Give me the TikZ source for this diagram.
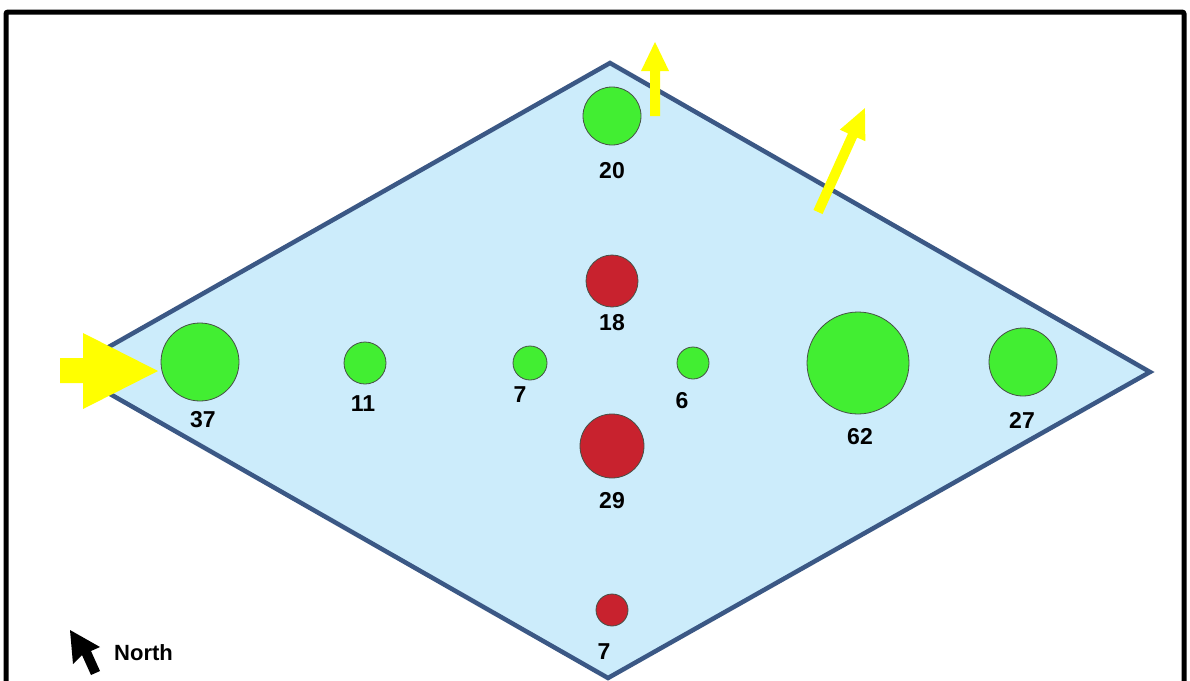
\documentclass[tikz,border=0pt]{standalone}
\usepackage{fontspec}
\setmainfont{Liberation Sans}
\definecolor{dfill}{RGB}{204,236,251}
\definecolor{dline}{RGB}{59,88,133}
\definecolor{gball}{RGB}{66,238,50}
\definecolor{rball}{RGB}{200,34,46}
\definecolor{yarrow}{RGB}{255,255,0}
\begin{document}
\begin{tikzpicture}[x=1pt,y=-1pt,
  ball/.style={circle,draw={rgb,255:red,70;green,80;blue,70},line width=0.8pt,inner sep=0pt,minimum size=#1},
  green/.style={fill=gball},
  red/.style={fill=rball},
  lbl/.style={font=\fontsize{23}{27}\selectfont\bfseries,inner sep=0pt},
  yarr/.style={fill=yarrow,draw=none}]
\useasboundingbox (0,0) rectangle (1190,680);
\fill[white] (0,0) rectangle (1190,680);
% frame
\draw[line width=5pt,rounded corners=2pt] (6,690) -- (6,12) -- (1184,12) -- (1184,690);
% diamond
\draw[fill=dfill,draw=dline,line width=4.5pt,line join=miter] (610,63) -- (1150,372) -- (608,678) -- (68,370) -- cycle;
% balls
\node[ball=58pt,green] (b20) at (612,116) {};
\node[ball=52pt,red] (b18) at (612,281) {};
\node[ball=64pt,red] (b29) at (612,446) {};
\node[ball=32pt,red] (b7r) at (612,610) {};
\node[ball=78pt,green] (b37) at (200,362) {};
\node[ball=42pt,green] (b11) at (365,363) {};
\node[ball=34pt,green] (b7g) at (530,363) {};
\node[ball=32pt,green] (b6) at (693,363) {};
\node[ball=102pt,green] (b62) at (858,363) {};
\node[ball=68pt,green] (b27) at (1023,362) {};
% labels
\node[lbl] (l20) at (612,171) {20};
\node[lbl] (l18) at (612,323) {18};
\node[lbl] (l29) at (612,501) {29};
\node[lbl] (l7r) at (604,652) {7};
\node[lbl] (l37) at (203,420) {37};
\node[lbl] (l11) at (363,404) {11};
\node[lbl] (l7g) at (520,395) {7};
\node[lbl] (l6) at (682,401) {6};
\node[lbl] (l62) at (860,437) {62};
\node[lbl] (l27) at (1022,420) {27};
% yellow arrows
\fill[yarr] (60,358) -- (83,358) -- (83,333) -- (158,371) -- (83,409) -- (83,383) -- (60,383) -- cycle;
\fill[yarr] (650,116) -- (650,71) -- (641,71) -- (655,42) -- (669,71) -- (660,71) -- (660,116) -- cycle;
\begin{scope}[shift={(818,212)},rotate=65.7]
\fill[yarr] (0,-5) -- (84,-5) -- (84,-14) -- (114,0) -- (84,14) -- (84,5) -- (0,5) -- cycle;
\end{scope}
% north
\fill[black] (70,630) -- (73,664) -- (82,655) -- (91,675) -- (100,671) -- (91,651) -- (100,647) -- cycle;
\node[font=\fontsize{22}{26}\selectfont\bfseries,anchor=west,inner sep=0pt] (north) at (114,653) {North};
\end{tikzpicture}
\end{document}
